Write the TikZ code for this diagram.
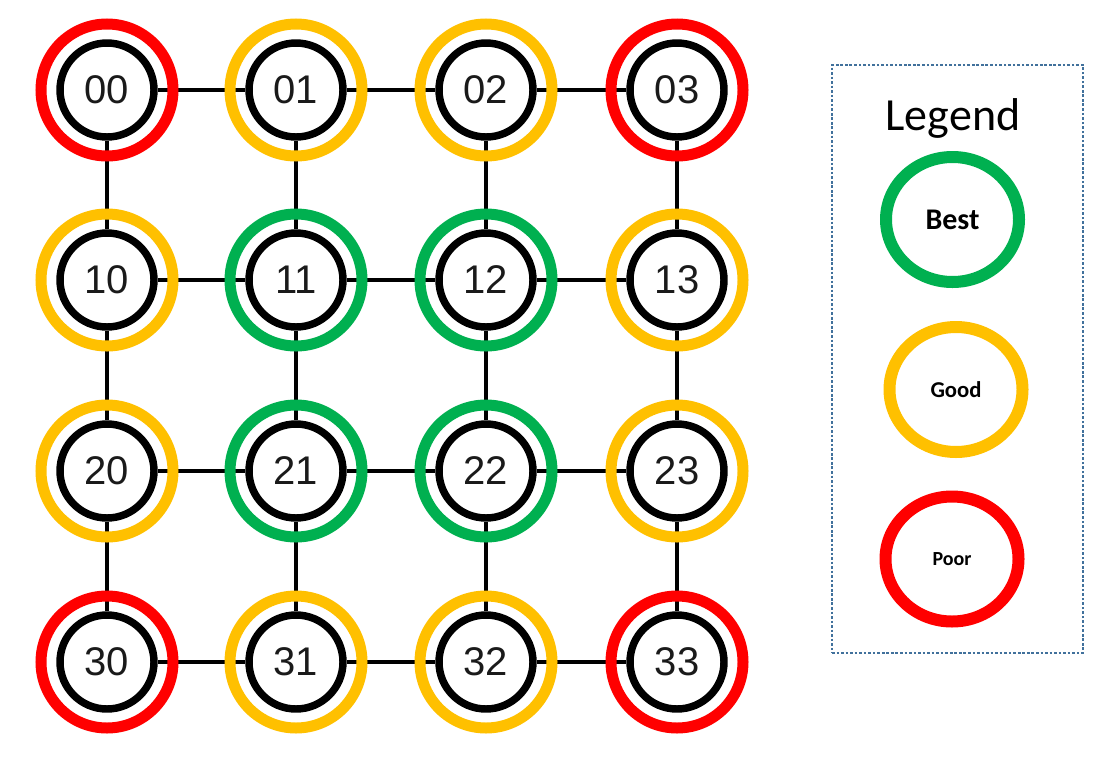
\documentclass[tikz,border=0pt]{standalone}
\usepackage{fontspec}
\setmainfont{Carlito}
\newfontfamily\arialf{Liberation Sans}
\usetikzlibrary{shapes.geometric}
\definecolor{cred}{HTML}{FF0000}
\definecolor{cgold}{HTML}{FFC000}
\definecolor{cgreen}{HTML}{00B050}
\definecolor{cbox}{HTML}{41719C}
\definecolor{cnum}{HTML}{1A1A1A}
\tikzset{
  core/.style={circle, draw=black, line width=5.6pt, fill=white, minimum size=70.5pt, inner sep=0pt,
    font=\arialf\fontsize{30}{36}\selectfont, text=cnum},
  ring/.style={circle, draw=#1, line width=8.25pt, minimum size=99pt, inner sep=0pt},
  link/.style={line width=2.6pt, black},
  legring/.style={ellipse, draw=#1, line width=9pt, minimum width=99.75pt, minimum height=93.75pt, inner sep=0pt, font=\bfseries},
}
\begin{document}
\begin{tikzpicture}[x=0.75pt, y=-0.75pt]
\useasboundingbox (0,0) rectangle (1103,764);
% core nodes
\foreach \r/\yy in {0/90,1/280,2/471,3/662}{
  \foreach \c/\xx in {0/107,1/296,2/486,3/677}{
    \node[core] (n\r\c) at (\xx,\yy) {\r\c};
  }
}
% links
\foreach \r in {0,1,2,3}{
  \draw[link] (n\r0) -- (n\r1);
  \draw[link] (n\r1) -- (n\r2);
  \draw[link] (n\r2) -- (n\r3);
  \draw[link] (n0\r) -- (n1\r);
  \draw[link] (n1\r) -- (n2\r);
  \draw[link] (n2\r) -- (n3\r);
}
% rings
\foreach \id/\col in {00/cred,01/cgold,02/cgold,03/cred,
                      10/cgold,11/cgreen,12/cgreen,13/cgold,
                      20/cgold,21/cgreen,22/cgreen,23/cgold,
                      30/cred,31/cgold,32/cgold,33/cred}{
  \node[ring=\col] (r\id) at (n\id) {};
}
% legend
\node[draw=cbox, line width=2.2pt, dash pattern=on 2pt off 1.4pt, minimum width=188.25pt, minimum height=441pt, inner sep=0pt] (legendbox) at (957.5,359) {};
\node[font=\fontsize{34.5}{40}\selectfont] (legendtitle) at (953,118) {Legend};
\node[legring=cgreen, font=\bfseries\fontsize{22.5}{26}\selectfont] (best) at (952.5,219.5) {Best};
\node[legring=cgold, font=\bfseries\fontsize{17}{20}\selectfont] (good) at (956,389.5) {Good};
\node[legring=cred, font=\bfseries\fontsize{15}{18}\selectfont] (poor) at (952,559) {Poor};
\end{tikzpicture}
\end{document}
